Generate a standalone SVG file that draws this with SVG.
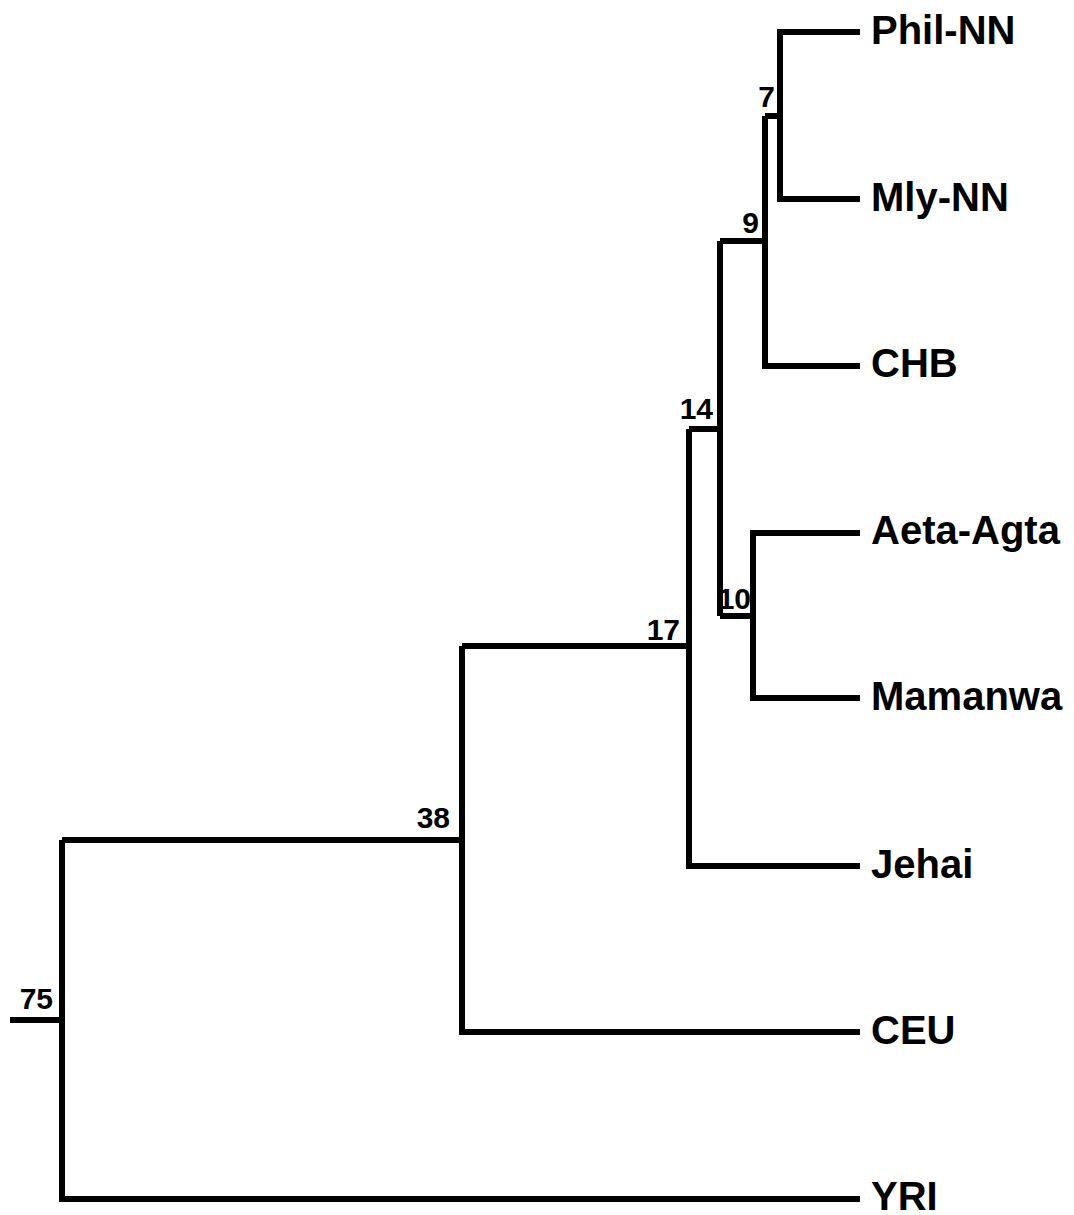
<svg xmlns="http://www.w3.org/2000/svg" width="1074" height="1215" viewBox="0 0 1074 1215">
<style>
.edge{fill:none;stroke:#000;stroke-width:6;stroke-linejoin:miter;stroke-linecap:butt}
.leaf{font-family:"Liberation Sans",Arial,sans-serif;font-weight:bold;font-size:40px;fill:#000}
.num{font-family:"Liberation Sans",Arial,sans-serif;font-weight:bold;font-size:30px;fill:#000;text-anchor:end}
</style>
<rect width="1074" height="1215" fill="#fff"/>
<g id="connectors">
<path class="edge" d="M860,32 H780 V199 H860"/>
<path class="edge" d="M780,116 H765"/>
<path class="edge" d="M765,116 V366 H860"/>
<path class="edge" d="M765,241 H720"/>
<path class="edge" d="M860,533 H753 V698 H860"/>
<path class="edge" d="M753,616 H720"/>
<path class="edge" d="M720,241 V616"/>
<path class="edge" d="M720,429 H689"/>
<path class="edge" d="M689,429 V866 H860"/>
<path class="edge" d="M689,646 H462"/>
<path class="edge" d="M462,646 V1032 H860"/>
<path class="edge" d="M462,840 H62"/>
<path class="edge" d="M62,840 V1199 H860"/>
<path class="edge" d="M62,1020 H10"/>
</g>
<g id="leaf-phil-nn"><text class="leaf" x="871" y="44">Phil-NN</text></g>
<g id="leaf-mly-nn"><text class="leaf" x="871" y="211">Mly-NN</text></g>
<g id="leaf-chb"><text class="leaf" x="871" y="377">CHB</text></g>
<g id="leaf-aeta-agta"><text class="leaf" x="871" y="544">Aeta-Agta</text></g>
<g id="leaf-mamanwa"><text class="leaf" x="871" y="710">Mamanwa</text></g>
<g id="leaf-jehai"><text class="leaf" x="871" y="878">Jehai</text></g>
<g id="leaf-ceu"><text class="leaf" x="871" y="1044">CEU</text></g>
<g id="leaf-yri"><text class="leaf" x="871" y="1210">YRI</text></g>
<g id="node-7"><text class="num" x="775" y="107">7</text></g>
<g id="node-9"><text class="num" x="759" y="233">9</text></g>
<g id="node-10"><text class="num" x="751" y="609">10</text></g>
<g id="node-14"><text class="num" x="713" y="419">14</text></g>
<g id="node-17"><text class="num" x="680" y="640">17</text></g>
<g id="node-38"><text class="num" x="450" y="828">38</text></g>
<g id="node-75"><text class="num" x="53" y="1009">75</text></g>
</svg>
